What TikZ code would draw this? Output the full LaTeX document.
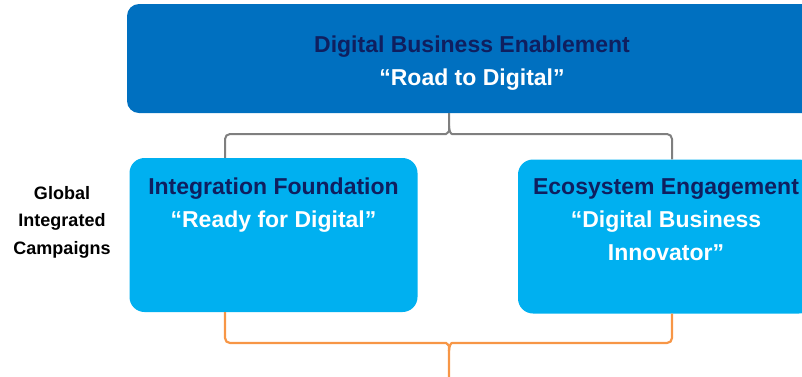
\documentclass[tikz,border=0pt]{standalone}
\usepackage{fontspec}
\setmainfont{Liberation Sans}
\usetikzlibrary{positioning}

\definecolor{topblue}{HTML}{0070C0}
\definecolor{boxblue}{HTML}{00B0F0}
\definecolor{navy}{HTML}{0F1F5F}
\definecolor{bracegray}{HTML}{7F7F7F}
\definecolor{braceorange}{HTML}{F79646}

\tikzset{
  topbox/.style={fill=topblue, rounded corners=12pt, minimum width=690pt, minimum height=109pt, inner sep=0pt},
  subbox/.style={fill=boxblue, rounded corners=15pt, minimum height=154pt, inner sep=0pt},
  boxtext/.style={font=\bfseries\fontsize{23}{33}\selectfont, align=center, inner sep=0pt, anchor=north},
  sidetext/.style={font=\bfseries\fontsize{18}{27.5}\selectfont, align=center, inner sep=0pt},
  grayline/.style={draw=bracegray, line width=2pt, rounded corners=5pt},
  orangeline/.style={draw=braceorange, line width=2.2pt, rounded corners=5pt},
}

\begin{document}
\begin{tikzpicture}[x=1pt,y=-1pt]
            \useasboundingbox (0,0) rectangle (802,376);
            \clip (0,0) rectangle (802,376);
            % legs of the braces
            \coordinate (lleg) at (225,0);
            \coordinate (rleg) at (672,0);
            \coordinate (mid) at (449,0);
            \coordinate (out) at (449,380);
            % boxes
            \node[topbox] (enable) at (472,58.5) {};
            \node[subbox, minimum width=288pt] (found) at (273.5,235) {};
            \node[subbox, minimum width=296pt] (eco) at (666,236.5) {};
            % texts
            \node[boxtext, below=32pt of enable.north] (enabletxt)
                {\textcolor{navy}{Digital Business Enablement}\\\textcolor{white}{“Road to Digital”}};
            \node[boxtext, below=20pt of found.north] (foundtxt)
                {\textcolor{navy}{Integration Foundation}\\\textcolor{white}{“Ready for Digital”}};
            \node[boxtext, below=19.5pt of eco.north] (ecotxt)
                {\textcolor{navy}{Ecosystem Engagement}\\\textcolor{white}{“Digital Business}\\\textcolor{white}{Innovator”}};
            \node[sidetext] (gic) at (62,222) {Global\\Integrated\\Campaigns};
            % gray brace
            \draw[grayline] (lleg |- found.north) |- (441,134)
                .. controls (447,134) and (449,131) .. (449,126) -- (mid |- enable.south);
            \draw[grayline] (rleg |- eco.north) |- (457,134)
                .. controls (451,134) and (449,131) .. (449,126);
            % orange brace
            \draw[orangeline] (lleg |- found.south) |- (441,343)
                .. controls (447,343) and (449,346) .. (449,351) -- (out);
            \draw[orangeline] (rleg |- eco.south) |- (457,343)
                .. controls (451,343) and (449,346) .. (449,351);
\end{tikzpicture}
\end{document}
